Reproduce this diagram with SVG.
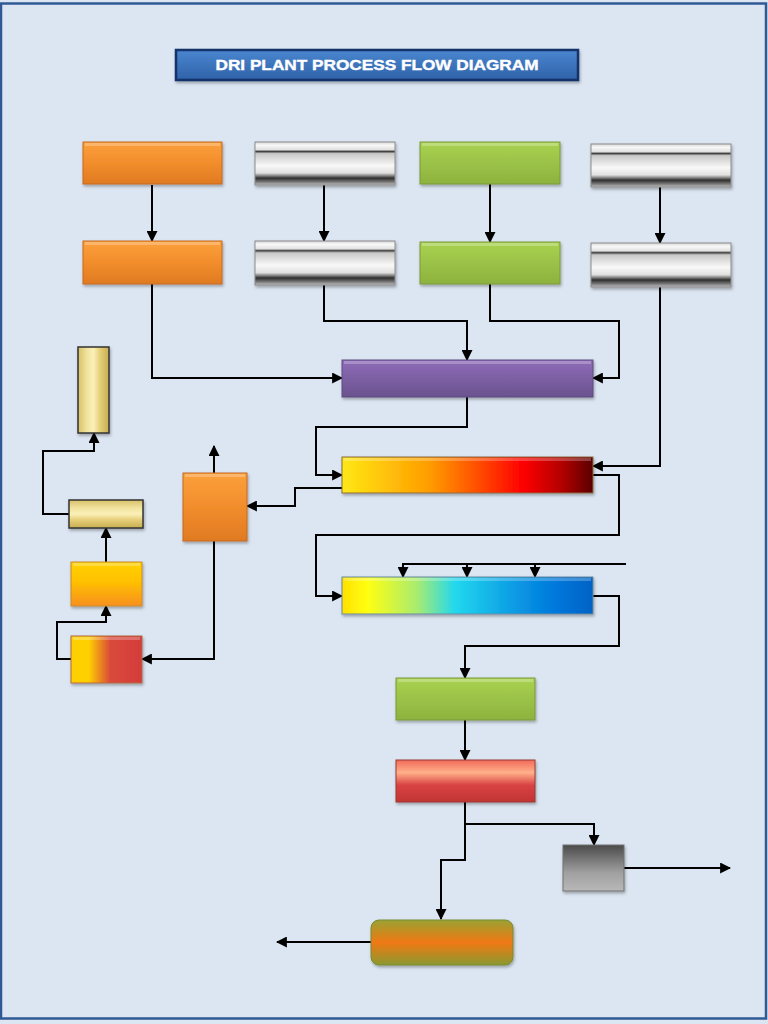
<svg xmlns="http://www.w3.org/2000/svg" width="768" height="1024" viewBox="0 0 768 1024">
<defs>
<style>
.c{fill:none;stroke:#000;stroke-width:2;marker-end:url(#ah)}
.bx{filter:url(#sh)}
.or{fill:url(#gOr);stroke:#c56a1e;stroke-width:1}
.sv{fill:url(#gSv);stroke:#8c8c8c;stroke-width:1}
.gr{fill:url(#gGr);stroke:#7a9a38;stroke-width:1}
.hl{fill:#fff;opacity:0.25}
</style>
<marker id="ah" viewBox="0 0 10 10" refX="9" refY="5" markerWidth="5.5" markerHeight="5.5" orient="auto" markerUnits="strokeWidth">
<path d="M0,0 L10,5 L0,10 z" fill="#000"/>
</marker>
<filter id="sh" x="-10%" y="-10%" width="130%" height="140%">
<feDropShadow dx="1" dy="2" stdDeviation="1.5" flood-color="#000" flood-opacity="0.3"/>
</filter>
<linearGradient id="gTitle" x1="0" y1="0" x2="0" y2="1">
<stop offset="0" stop-color="#4a86d0"/><stop offset="1" stop-color="#2f62a8"/>
</linearGradient>
<linearGradient id="gOr" x1="0" y1="0" x2="0" y2="1">
<stop offset="0" stop-color="#fba03c"/><stop offset="0.5" stop-color="#f28d2c"/><stop offset="1" stop-color="#e07a22"/>
</linearGradient>
<linearGradient id="gSv" x1="0" y1="0" x2="0" y2="1">
<stop offset="0" stop-color="#d8d8d8"/><stop offset="0.08" stop-color="#f8f8f8"/><stop offset="0.18" stop-color="#e0e0e0"/>
<stop offset="0.22" stop-color="#404040"/><stop offset="0.27" stop-color="#c8c8c8"/><stop offset="0.55" stop-color="#f8f8f8"/>
<stop offset="0.72" stop-color="#e0e0e0"/><stop offset="0.78" stop-color="#8a8a8a"/><stop offset="0.84" stop-color="#2e2e2e"/>
<stop offset="0.92" stop-color="#707070"/><stop offset="1" stop-color="#c0c0c0"/>
</linearGradient>
<linearGradient id="gGr" x1="0" y1="0" x2="0" y2="1">
<stop offset="0" stop-color="#a9d250"/><stop offset="1" stop-color="#8db23f"/>
</linearGradient>
<linearGradient id="gPu" x1="0" y1="0" x2="0" y2="1">
<stop offset="0" stop-color="#8e6cb8"/><stop offset="1" stop-color="#6a528e"/>
</linearGradient>
<linearGradient id="gHot" x1="0" y1="0" x2="1" y2="0">
<stop offset="0" stop-color="#ffe814"/><stop offset="0.35" stop-color="#ff9c00"/><stop offset="0.55" stop-color="#ff4a00"/><stop offset="0.72" stop-color="#ff0000"/><stop offset="0.88" stop-color="#b00000"/><stop offset="1" stop-color="#5a0000"/>
</linearGradient>
<linearGradient id="gCold" x1="0" y1="0" x2="1" y2="0">
<stop offset="0" stop-color="#ffe000"/><stop offset="0.1" stop-color="#ffff10"/><stop offset="0.3" stop-color="#a8ec70"/><stop offset="0.45" stop-color="#22d8ee"/><stop offset="0.7" stop-color="#0a98e4"/><stop offset="0.85" stop-color="#0078dc"/><stop offset="1" stop-color="#0062c4"/>
</linearGradient>
<linearGradient id="gYel" x1="0" y1="0" x2="0" y2="1">
<stop offset="0" stop-color="#ffd200"/><stop offset="0.45" stop-color="#ffc000"/><stop offset="1" stop-color="#f7901e"/>
</linearGradient>
<linearGradient id="gYR" x1="0" y1="0" x2="1" y2="0">
<stop offset="0" stop-color="#ffd000"/><stop offset="0.25" stop-color="#ffd000"/><stop offset="0.55" stop-color="#da4a3a"/><stop offset="1" stop-color="#d43c3c"/>
</linearGradient>
<linearGradient id="gTanV" x1="0" y1="0" x2="1" y2="0">
<stop offset="0" stop-color="#d6c068"/><stop offset="0.3" stop-color="#f2e4a0"/><stop offset="0.5" stop-color="#fbf0b8"/><stop offset="0.7" stop-color="#e6d07a"/><stop offset="1" stop-color="#c8ac50"/>
</linearGradient>
<linearGradient id="gTanH" x1="0" y1="0" x2="0" y2="1">
<stop offset="0" stop-color="#d6c068"/><stop offset="0.3" stop-color="#f2e4a0"/><stop offset="0.5" stop-color="#fbf0b8"/><stop offset="0.7" stop-color="#e6d07a"/><stop offset="1" stop-color="#c8ac50"/>
</linearGradient>
<linearGradient id="gRed" x1="0" y1="0" x2="0" y2="1">
<stop offset="0" stop-color="#f26a5a"/><stop offset="0.3" stop-color="#ffb08a"/><stop offset="0.6" stop-color="#d84242"/><stop offset="1" stop-color="#c23434"/>
</linearGradient>
<linearGradient id="gGray" x1="0" y1="0" x2="0" y2="1">
<stop offset="0" stop-color="#4a4a4a"/><stop offset="0.6" stop-color="#a0a0a0"/><stop offset="1" stop-color="#b8b8b8"/>
</linearGradient>
<linearGradient id="gOl" x1="0" y1="0" x2="0" y2="1">
<stop offset="0" stop-color="#9aa234"/><stop offset="0.5" stop-color="#f07812"/><stop offset="1" stop-color="#8a9a30"/>
</linearGradient>
</defs>

<rect x="0" y="0" width="768" height="1024" fill="#dce6f2"/>
<rect x="1" y="3.5" width="765" height="1015" fill="none" stroke="#2f5a96" stroke-width="2.5"/>

<g id="title">
<rect x="176" y="50" width="402" height="30" fill="url(#gTitle)" stroke="#13306a" stroke-width="2.5" class="bx"/>
<text x="377" y="70" text-anchor="middle" font-family="Liberation Sans, Arial, sans-serif" font-weight="bold" font-size="15.5" fill="#fff" textLength="323" lengthAdjust="spacingAndGlyphs" stroke="#fff" stroke-width="0.4">DRI PLANT PROCESS FLOW DIAGRAM</text>
</g>

<g id="connectors">
<path class="c" d="M152,185 V241"/>
<path class="c" d="M324,185 V241"/>
<path class="c" d="M490,184 V242"/>
<path class="c" d="M660,187 V243"/>
<path class="c" d="M152,284 V378 H342"/>
<path class="c" d="M324,285 V321 H467 V360"/>
<path class="c" d="M490,284 V321 H619 V378 H593"/>
<path class="c" d="M660,287 V466 H593"/>
<path class="c" d="M467,397 V427 H316 V475 H342"/>
<path class="c" d="M593,475 H619 V535 H316 V596 H342"/>
<path class="c" d="M342,488 H295 V506 H247"/>
<path class="c" d="M214,473 V446"/>
<path class="c" d="M214,541 V659 H142"/>
<path class="c" d="M71,659 H57 V622 H106 V606"/>
<path class="c" d="M106,562 V528"/>
<path class="c" d="M69,514 H43 V451 H94 V433"/>
<path class="c" d="M626,564 H403 V577"/>
<path class="c" d="M467,564 V577"/>
<path class="c" d="M535,564 V577"/>
<path class="c" d="M593,596 H619 V646 H465 V678"/>
<path class="c" d="M465,720 V760"/>
<path class="c" d="M465,802 V824 H594 V845"/>
<path class="c" d="M465,824 V860 H441 V919"/>
<path class="c" d="M624,868 H730"/>
<path class="c" d="M371,942 H277"/>
</g>

<g id="feed1"><rect class="or bx" x="83" y="142" width="139" height="42"/><rect class="hl" x="85" y="143" width="135" height="3"/></g>
<g id="feed2"><rect class="sv bx" x="255" y="142" width="140" height="43"/></g>
<g id="feed3"><rect class="gr bx" x="420" y="142" width="140" height="42"/><rect class="hl" x="422" y="143" width="136" height="3"/></g>
<g id="feed4"><rect class="sv bx" x="591" y="144" width="140" height="43"/></g>

<g id="bin1"><rect class="or bx" x="83" y="241" width="139" height="43"/><rect class="hl" x="85" y="242" width="135" height="3"/></g>
<g id="bin2"><rect class="sv bx" x="255" y="241" width="140" height="44"/></g>
<g id="bin3"><rect class="gr bx" x="420" y="242" width="140" height="42"/><rect class="hl" x="422" y="243" width="136" height="3"/></g>
<g id="bin4"><rect class="sv bx" x="591" y="243" width="140" height="44"/></g>

<g id="mixer"><rect class="bx" x="342" y="360" width="251" height="37" fill="url(#gPu)" stroke="#5e4a80" stroke-width="1"/><rect class="hl" x="344" y="361" width="247" height="3"/></g>
<g id="kiln"><rect class="bx" x="342" y="457" width="251" height="36" fill="url(#gHot)" stroke="#8a6a40" stroke-width="1"/><rect class="hl" x="344" y="458" width="247" height="3"/></g>
<g id="cooler"><rect class="bx" x="342" y="577" width="251" height="37" fill="url(#gCold)" stroke="#6a8aa0" stroke-width="1"/><rect class="hl" x="344" y="578" width="247" height="3"/></g>

<g id="abc"><rect class="or bx" x="183" y="473" width="64" height="68"/><rect class="hl" x="185" y="474" width="60" height="3"/></g>
<g id="stack"><rect class="bx" x="78" y="347" width="31" height="86" fill="url(#gTanV)" stroke="#333" stroke-width="1.5"/></g>
<g id="esp"><rect class="bx" x="69" y="500" width="74" height="28" fill="url(#gTanH)" stroke="#333" stroke-width="1.5"/></g>
<g id="boiler"><rect class="bx" x="71" y="562" width="71" height="44" fill="url(#gYel)" stroke="#c88a30" stroke-width="1"/><rect class="hl" x="73" y="563" width="67" height="3"/></g>
<g id="afterburner"><rect class="bx" x="71" y="636" width="71" height="47" fill="url(#gYR)" stroke="#b06a40" stroke-width="1"/><rect class="hl" x="73" y="637" width="67" height="3"/></g>

<g id="screen"><rect class="gr bx" x="396" y="678" width="139" height="42"/><rect class="hl" x="398" y="679" width="135" height="3"/></g>
<g id="separator"><rect class="bx" x="396" y="760" width="139" height="42" fill="url(#gRed)" stroke="#9a3a30" stroke-width="1"/></g>
<g id="char"><rect class="bx" x="563" y="845" width="61" height="46" fill="url(#gGray)" stroke="#707070" stroke-width="1"/></g>
<g id="product"><rect class="bx" x="371" y="920" width="142" height="45" rx="8" fill="url(#gOl)" stroke="#7a8a30" stroke-width="1"/></g>
</svg>
